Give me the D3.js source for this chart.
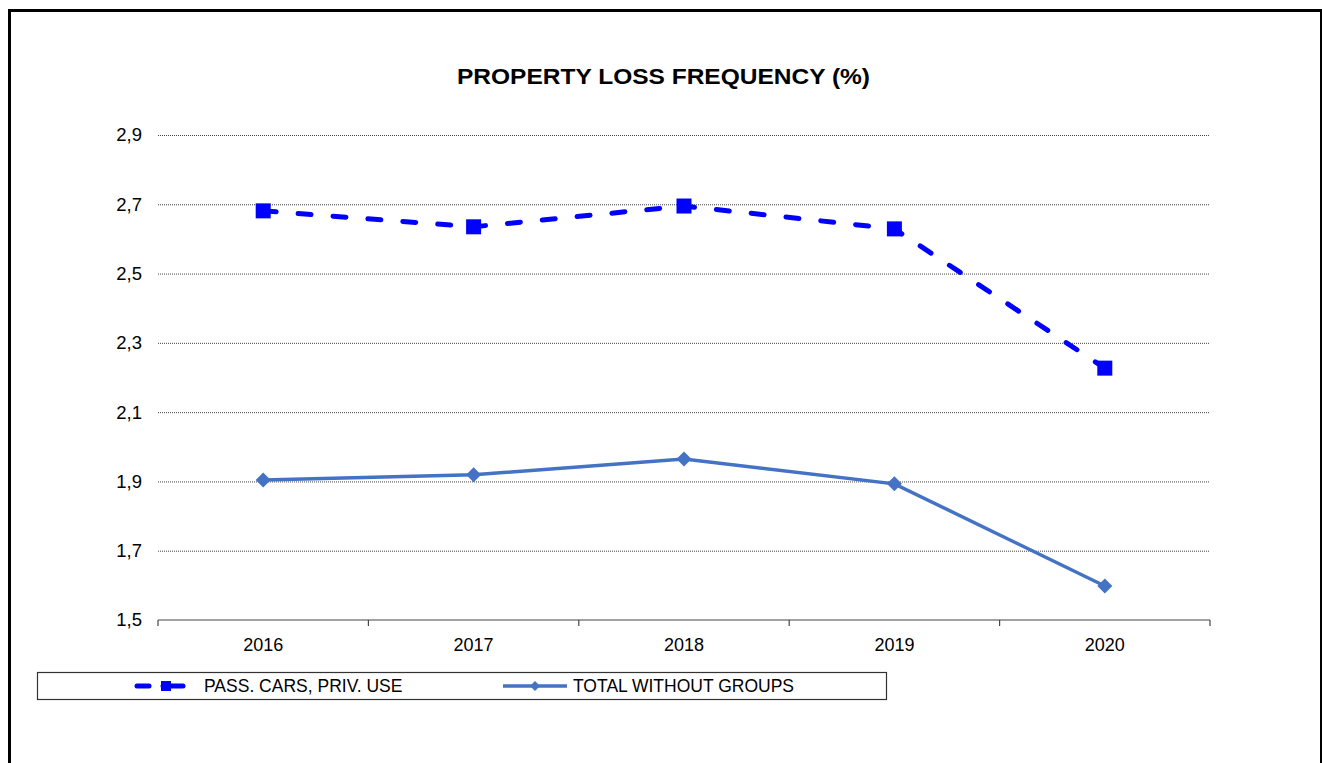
<!DOCTYPE html>
<html>
<head>
<meta charset="utf-8">
<script src="https://cdn.jsdelivr.net/npm/d3@7"></script>
<style>
  html, body { margin: 0; padding: 0; background: #fff; }
  svg { display: block; font-family: Arial, "Liberation Sans", sans-serif; }
</style>
</head>
<body>
<div id="chart"></div>
<script>
// chart data
var years = ["2016", "2017", "2018", "2019", "2020"]
var passCars = [2.681, 2.635, 2.695, 2.629, 2.227]
var totalWithoutGroups = [1.904, 1.919, 1.965, 1.893, 1.598]
var yTicks = [1.5, 1.7, 1.9, 2.1, 2.3, 2.5, 2.7, 2.9]
var seriesNames = ["PASS. CARS, PRIV. USE", "TOTAL WITHOUT GROUPS"]

var width = 1322, height = 763
var margin = {top: 135, right: 112, bottom: 143, left: 158}

var svg = d3.select("#chart")
    .append("svg")
    .attr("width", width)
    .attr("height", height)

// outer frame (bottom edge runs off the picture)
svg.append("rect")
    .attr("x", 9.5).attr("y", 10.5)
    .attr("width", 1312).attr("height", 800)
    .attr("fill", "none")
    .attr("stroke", "#000")
    .attr("stroke-width", 3)

// title is drawn a bit wide in the original, stretch to fit
svg.append("text")
    .attr("x", 457).attr("y", 84)
    .attr("textLength", 413)
    .attr("lengthAdjust", "spacingAndGlyphs")
    .style("font-size", "21.5px")
    .style("font-weight", "bold")
    .text("PROPERTY LOSS FREQUENCY (%)")

var x = d3.scaleBand()
    .domain(years)
    .range([margin.left, width - margin.right])
    .padding(0)

var y = d3.scaleLinear()
    .domain([1.5, 2.9])
    .range([height - margin.bottom, margin.top])

var fmt = function(d) { return d.toFixed(1).replace(".", ",") }

// gridlines + y labels
var yAxis = svg.append("g")
    .attr("transform", "translate(" + margin.left + ",0)")
    .call(d3.axisLeft(y).tickValues(yTicks).tickFormat(fmt)
        .tickSize(-(width - margin.right - margin.left)).tickPadding(16))
yAxis.select(".domain").remove()
yAxis.selectAll(".tick line")
    .attr("stroke", "#444")
    .attr("stroke-dasharray", "1,1")
    .filter(function(d) { return d === 1.5 }).remove()
yAxis.selectAll(".tick text")
    .attr("fill", "#000")
    .style("font-size", "18.5px")
    .style("font-family", "Arial, 'Liberation Sans', sans-serif")

// x axis with ticks at band edges
var xAxisG = svg.append("g")
    .attr("transform", "translate(0," + y(1.5) + ")")
xAxisG.append("line")
    .attr("x1", margin.left).attr("x2", width - margin.right)
    .attr("stroke", "#444").attr("stroke-width", 1.2)
var edges = years.map(function(d) { return x(d) }).concat([x(years[years.length - 1]) + x.bandwidth()])
xAxisG.selectAll(".edge")
    .data(edges)
    .enter().append("line")
    .attr("x1", function(d) { return d }).attr("x2", function(d) { return d })
    .attr("y1", 0).attr("y2", 6)
    .attr("stroke", "#444").attr("stroke-width", 1.2)
xAxisG.selectAll(".lbl")
    .data(years)
    .enter().append("text")
    .attr("x", function(d) { return x(d) + x.bandwidth() / 2 })
    .attr("y", 31)
    .attr("text-anchor", "middle")
    .style("font-size", "18px")
    .text(function(d) { return d })

var cx = function(d, i) { return x(years[i]) + x.bandwidth() / 2 }

// series 1: dashed blue with squares
svg.append("path")
    .datum(passCars)
    .attr("fill", "none")
    .attr("stroke", "#0000ff")
    .attr("stroke-width", 5)
    .attr("stroke-linecap", "round")
    .attr("stroke-dasharray", "13,22")
    .attr("d", d3.line().x(cx).y(function(d) { return y(d) }))

svg.selectAll(".sq")
    .data(passCars)
    .enter().append("rect")
    .attr("x", function(d, i) { return cx(d, i) - 7.5 })
    .attr("y", function(d) { return y(d) - 7.5 })
    .attr("width", 15).attr("height", 15)
    .attr("fill", "#0000ff")

// series 2: solid steel blue with diamonds
svg.append("path")
    .datum(totalWithoutGroups)
    .attr("fill", "none")
    .attr("stroke", "#4472c4")
    .attr("stroke-width", 3.5)
    .attr("d", d3.line().x(cx).y(function(d) { return y(d) }))

svg.selectAll(".dm")
    .data(totalWithoutGroups)
    .enter().append("path")
    .attr("transform", function(d, i) { return "translate(" + cx(d, i) + "," + y(d) + ")" })
    .attr("d", "M0,-7.5L7.5,0L0,7.5L-7.5,0Z")
    .attr("fill", "#4472c4")

// legend
var lg = svg.append("g")
lg.append("rect")
    .attr("x", 37.5).attr("y", 672.5)
    .attr("width", 849).attr("height", 27)
    .attr("fill", "#fff")
    .attr("stroke", "#333")
    .attr("stroke-width", 1.2)

lg.append("line")
    .attr("x1", 137).attr("x2", 149).attr("y1", 686).attr("y2", 686)
    .attr("stroke", "#0000ff").attr("stroke-width", 5).attr("stroke-linecap", "round")
lg.append("line")
    .attr("x1", 163).attr("x2", 183).attr("y1", 686).attr("y2", 686)
    .attr("stroke", "#0000ff").attr("stroke-width", 5).attr("stroke-linecap", "round")
lg.append("rect")
    .attr("x", 161).attr("y", 681).attr("width", 10).attr("height", 10)
    .attr("fill", "#0000ff")
lg.append("text")
    .attr("x", 204).attr("y", 692)
    .style("font-size", "17.5px")
    .text(seriesNames[0])

lg.append("line")
    .attr("x1", 503).attr("x2", 567).attr("y1", 686).attr("y2", 686)
    .attr("stroke", "#4472c4").attr("stroke-width", 3.5)
lg.append("path")
    .attr("transform", "translate(535,686)")
    .attr("d", "M0,-5L5,0L0,5L-5,0Z")
    .attr("fill", "#4472c4")
lg.append("text")
    .attr("x", 573).attr("y", 692)
    .style("font-size", "17.5px")
    .text(seriesNames[1])
</script>
</body>
</html>
